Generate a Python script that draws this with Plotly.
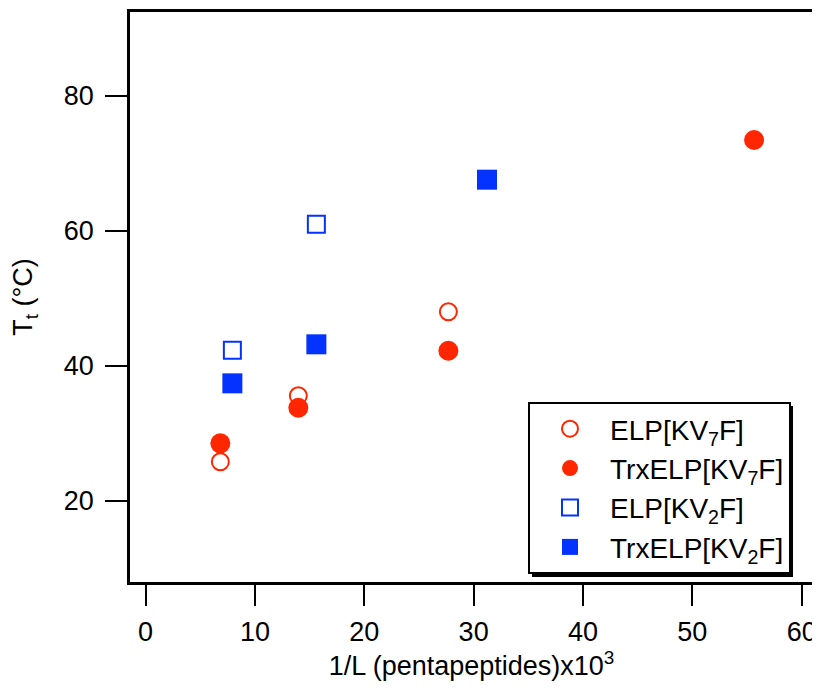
import plotly.graph_objects as go

# Data
elp_kv7f_x = [6.84, 13.97, 27.69]
elp_kv7f_y = [25.75, 35.53, 47.97]
trx_kv7f_x = [6.84, 13.97, 27.69, 55.64]
trx_kv7f_y = [28.47, 33.75, 42.19, 73.4]
elp_kv2f_x = [7.94, 15.62]
elp_kv2f_y = [42.25, 60.92]
trx_kv2f_x = [7.94, 15.62, 31.22]
trx_kv2f_y = [37.36, 43.14, 67.53]

x_ticks = [0, 10, 20, 30, 40, 50, 60]
y_ticks = [20, 40, 60, 80]

RED = "#ff2600"
BLUE = "#0433ff"
FONT = "Liberation Sans"

fig = go.Figure()
fig.add_trace(go.Scatter(x=elp_kv7f_x, y=elp_kv7f_y, mode="markers", name="ELP[KV<sub>7</sub>F]",
                         marker=dict(symbol="circle-open", size=17, color=RED, line=dict(width=2, color=RED))))
fig.add_trace(go.Scatter(x=trx_kv7f_x, y=trx_kv7f_y, mode="markers", name="TrxELP[KV<sub>7</sub>F]",
                         marker=dict(symbol="circle", size=20, color=RED, line=dict(width=0))))
fig.add_trace(go.Scatter(x=elp_kv2f_x, y=elp_kv2f_y, mode="markers", name="ELP[KV<sub>2</sub>F]",
                         marker=dict(symbol="square-open", size=17, color=BLUE, line=dict(width=2, color=BLUE))))
fig.add_trace(go.Scatter(x=trx_kv2f_x, y=trx_kv2f_y, mode="markers", name="TrxELP[KV<sub>2</sub>F]",
                         marker=dict(symbol="square", size=20, color=BLUE, line=dict(width=0))))

# legend drop shadow (plot area spans 683 x 570 px)
PW, PH = 683, 570
fig.add_shape(type="rect", xref="paper", yref="paper",
              x0=402 / PW, x1=663 / PW,
              y0=5 / PH, y1=176 / PH,
              fillcolor="black", line=dict(width=0), layer="above")

fig.update_layout(
    width=812, height=680,
    margin=dict(l=122, r=7, t=4, b=106, autoexpand=False),
    paper_bgcolor="white", plot_bgcolor="white",
    font=dict(family=FONT, size=27, color="black"),
    showlegend=True,
    legend=dict(x=398 / PW, y=180 / PH, xanchor="left", yanchor="top",
                bgcolor="white", bordercolor="black", borderwidth=2,
                font=dict(family=FONT, size=28), itemwidth=70, tracegroupgap=0),
    xaxis=dict(range=[-1.42, 61.03], tickvals=x_ticks, ticks="outside", ticklen=21, tickwidth=2,
               tickcolor="black", showline=True, linecolor="black", linewidth=2.5, mirror=True,
               showgrid=False, zeroline=False, ticklabelstandoff=3, automargin=False,
               title=dict(text="1/L (pentapeptides)x10<sup>3</sup>", standoff=6, font=dict(size=27))),
    yaxis=dict(range=[7.93, 92.37], tickvals=y_ticks, ticks="outside", ticklen=22, tickwidth=2,
               tickcolor="black", showline=True, linecolor="black", linewidth=2.5, mirror=True,
               showgrid=False, zeroline=False, ticklabelstandoff=6, automargin=False,
               title=dict(text="T<sub>t</sub> (°C)", standoff=26, font=dict(size=27))),
)

fig.write_html("out.html")
